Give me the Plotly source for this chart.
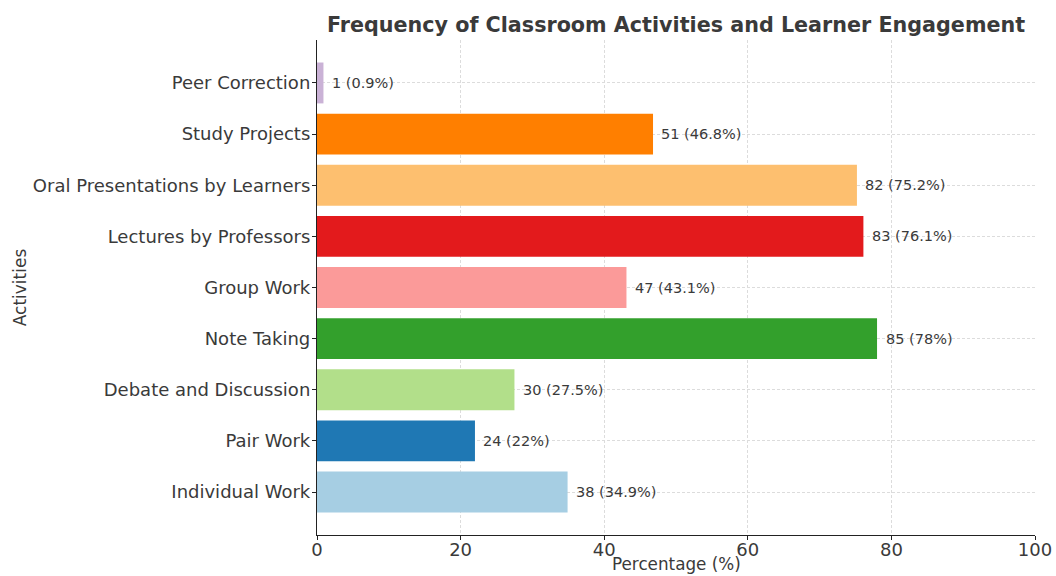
import plotly.graph_objects as go

activities = ["Individual Work", "Pair Work", "Debate and Discussion", "Note Taking",
              "Group Work", "Lectures by Professors", "Oral Presentations by Learners",
              "Study Projects", "Peer Correction"]
counts = [38, 24, 30, 85, 47, 83, 82, 51, 1]
percentages = [34.9, 22, 27.5, 78, 43.1, 76.1, 75.2, 46.8, 0.9]
colors = ["#a6cee3", "#1f78b4", "#b2df8a", "#33a02c", "#fb9a99",
          "#e31a1c", "#fdbf6f", "#ff7f00", "#cab2d6"]
x_ticks = [0, 20, 40, 60, 80, 100]

labels = [f"{c} ({p:g}%)" for c, p in zip(counts, percentages)]
ypos = list(range(len(activities)))

TXT = "#3a3a3a"
PLOT_TOP, PLOT_BOTTOM = 40, 535

fig = go.Figure()
fig.add_trace(go.Bar(
    x=percentages, y=ypos, orientation="h",
    marker=dict(color=colors, line=dict(width=0)),
    width=0.8, showlegend=False,
))

for y, p, lab in zip(ypos, percentages, labels):
    fig.add_annotation(x=p + 0.9, y=y, text=lab, xref="x", yref="y",
                       xanchor="left", yanchor="middle", showarrow=False,
                       font=dict(family="DejaVu Sans", size=14.5, color=TXT))

# x-axis title (placed as an annotation so it can sit just below the tick labels)
fig.add_annotation(x=0.5, y=(PLOT_BOTTOM - 576) / (PLOT_BOTTOM - PLOT_TOP),
                   xref="paper", yref="paper", text="Percentage (%)",
                   xanchor="center", yanchor="bottom", showarrow=False,
                   font=dict(family="DejaVu Sans", size=16.8, color=TXT))

fig.update_layout(
    width=1056, height=576,
    margin=dict(l=317, r=21, t=PLOT_TOP, b=576 - PLOT_BOTTOM),
    paper_bgcolor="white", plot_bgcolor="white",
    font=dict(family="DejaVu Sans", color=TXT),
    title=dict(text="<b>Frequency of Classroom Activities and Learner Engagement</b>",
               x=(317 + 1035) / 2 / 1056, xanchor="center", y=1 - 25 / 576, yanchor="middle",
               font=dict(family="DejaVu Sans", size=20.7, color=TXT)),
)
fig.update_xaxes(
    range=[0, 100], tickvals=x_ticks, automargin=False,
    showgrid=True, gridcolor="#dcdcdc", griddash="3px,2px", gridwidth=1,
    showline=True, linecolor="#222222", linewidth=1.2,
    ticks="outside", ticklen=4, tickcolor="#222222", ticklabelstandoff=-6,
    tickfont=dict(size=18, color=TXT),
    zeroline=False,
)
fig.update_yaxes(
    range=[-0.84, 8.84], tickvals=ypos, ticktext=activities, automargin=False,
    showgrid=True, gridcolor="#dcdcdc", griddash="3px,2px", gridwidth=1,
    showline=True, linecolor="#222222", linewidth=1.2,
    ticks="outside", ticklen=4, tickcolor="#222222", ticklabelstandoff=-2,
    tickfont=dict(size=18, color=TXT),
    title=dict(text="Activities", font=dict(size=17, color=TXT), standoff=1),
    zeroline=False,
)

fig.write_html("out.html")
